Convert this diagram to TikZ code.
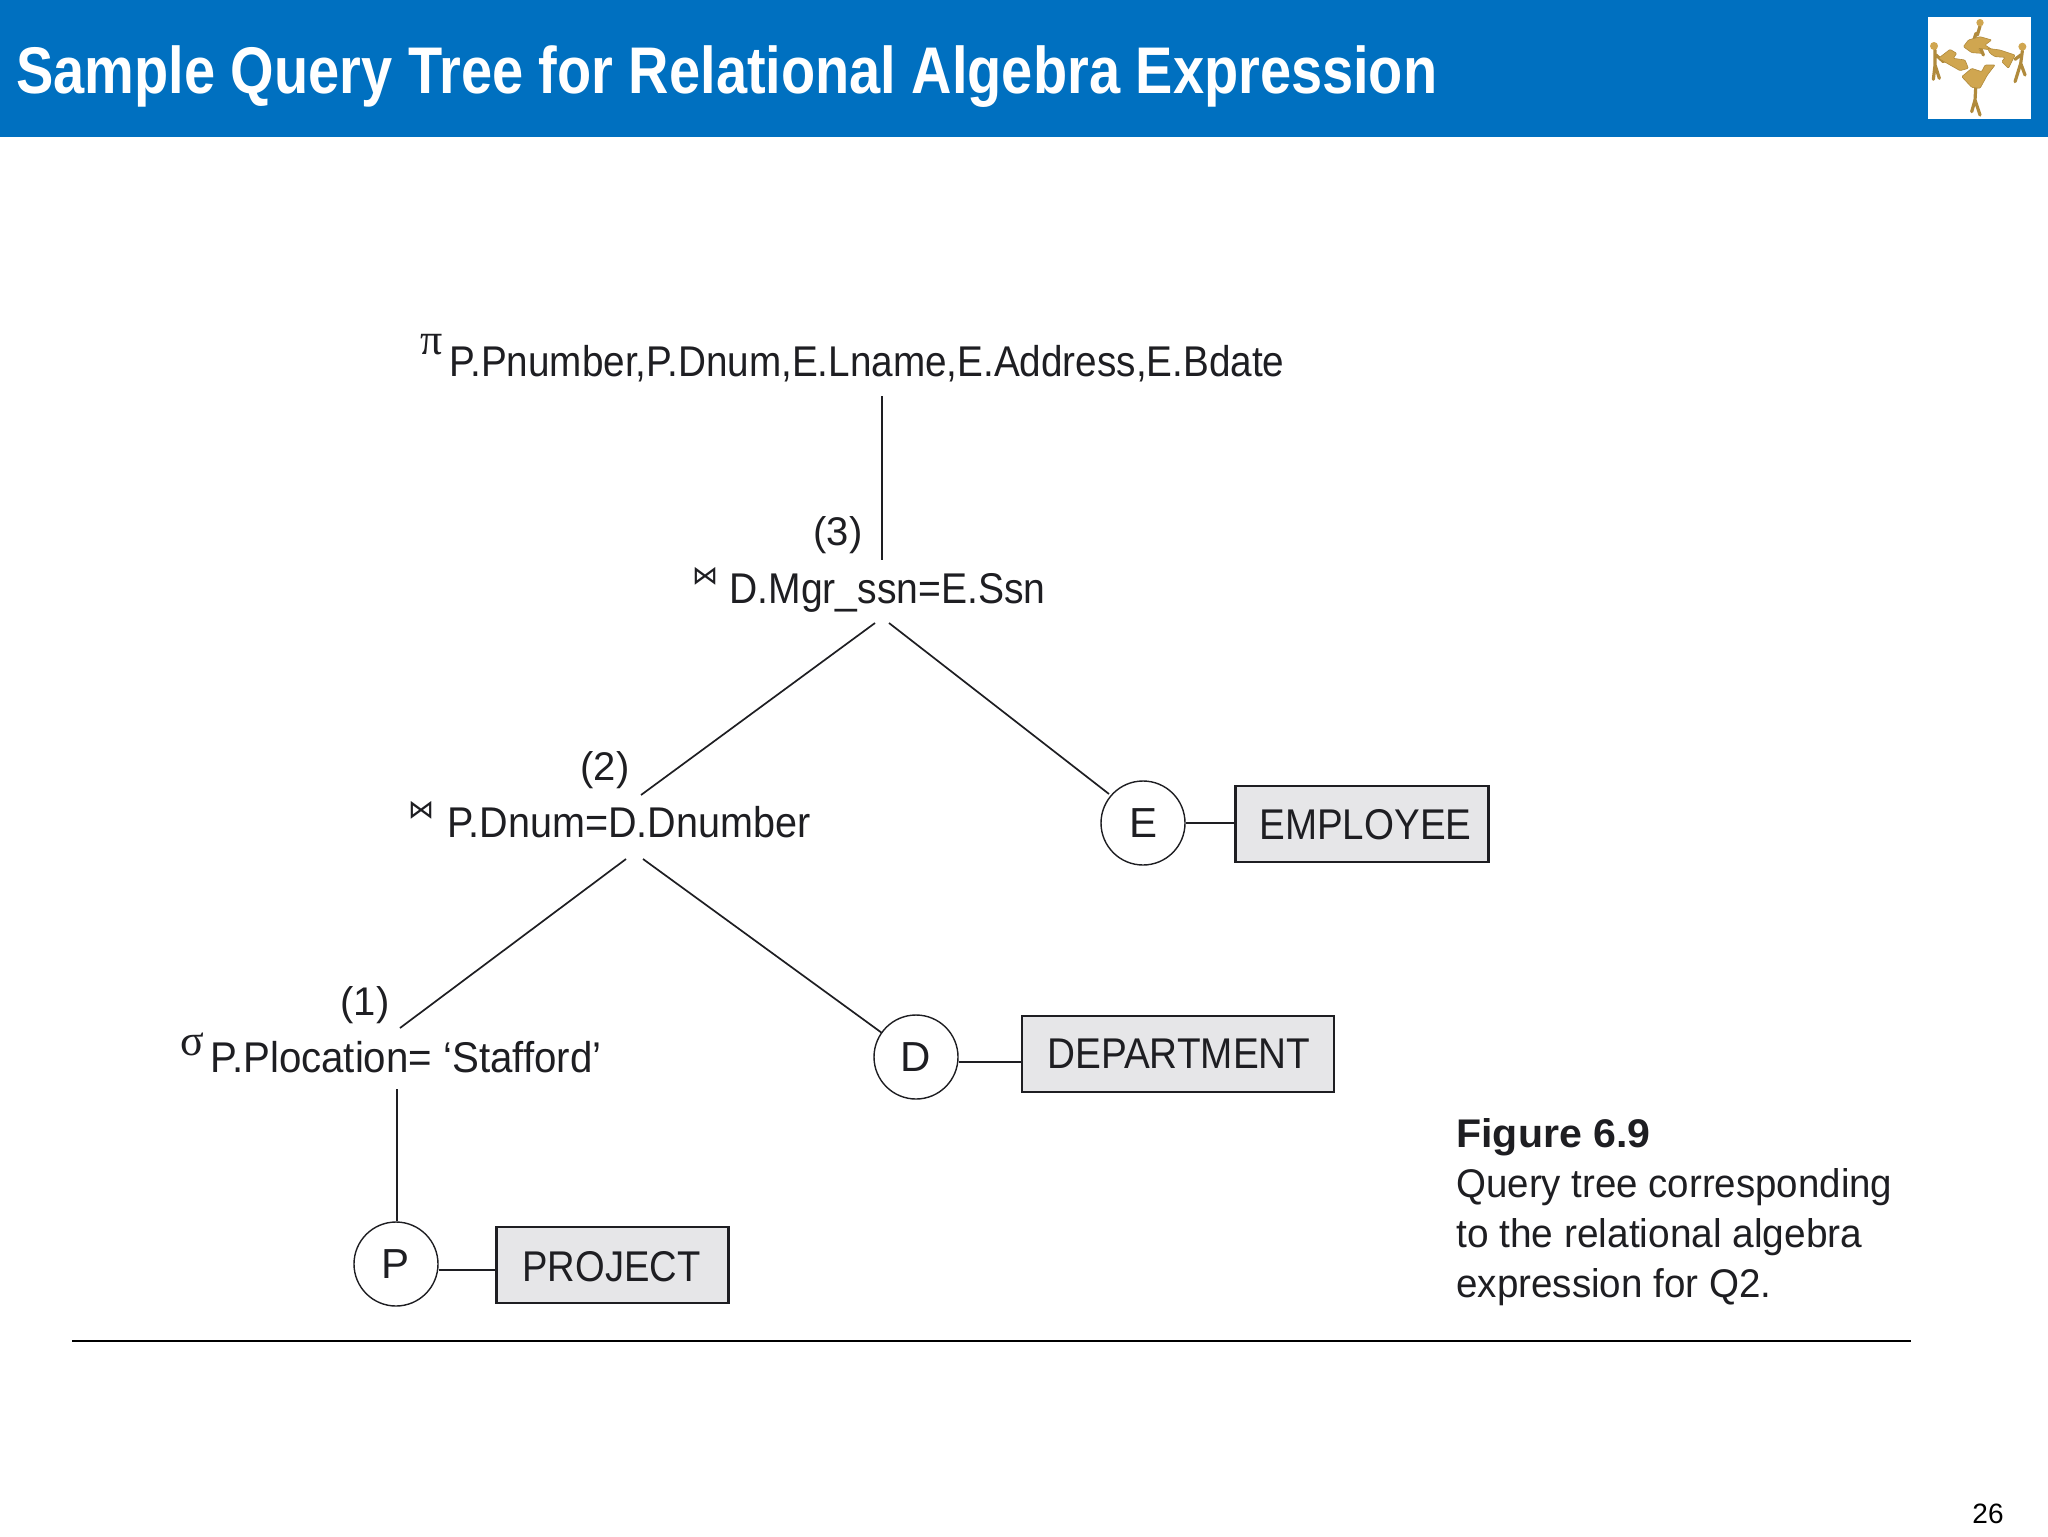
\documentclass[tikz,border=0pt]{standalone}
\usepackage{fontspec}
\setmainfont{Liberation Sans}
\newfontfamily\symfont{DejaVu Sans}
\newfontfamily\grkfont{Liberation Serif}
\definecolor{hdr}{HTML}{0070C0}
\definecolor{boxgray}{HTML}{E6E6E8}
\definecolor{gold}{HTML}{D0A650}
\definecolor{golddk}{HTML}{B08A3C}
\definecolor{inkc}{HTML}{1E1E22}
\newsavebox{\fitbox}
% #1 target width in reference pixels, #2 text
\newcommand{\fitw}[2]{\sbox{\fitbox}{#2}\pgfmathsetmacro{\fitx}{(#1*0.5)/\wd\fitbox}\scalebox{\fitx}[1]{\usebox{\fitbox}}}
\tikzset{
  txt/.style={inner sep=0pt,anchor=base west,text=inkc},
  expr/.style={txt,font=\fontsize{21.5}{24}\selectfont},
  num/.style={inner sep=0pt,anchor=center,text=inkc,font=\fontsize{20}{24}\selectfont},
  rel/.style={draw=inkc,fill=boxgray,line width=1.1pt,inner sep=0pt},
  relname/.style={txt,font=\fontsize{21.5}{24}\selectfont},
  tup/.style={circle,draw=inkc,fill=white,line width=.7pt,minimum size=42pt,inner sep=0pt,text=inkc,font=\fontsize{21}{24}\selectfont},
  link/.style={draw=inkc,line width=.85pt},
  captxt/.style={txt,font=\fontsize{20}{24}\selectfont},
  piece/.style={fill=gold,draw=golddk,line width=.3pt,rounded corners=.5pt},
  man/.style={draw=golddk,line width=1.6pt,line cap=round,line join=round}
}
\begin{document}
\begin{tikzpicture}[x=0.5pt,y=-0.5pt]
\useasboundingbox (0,0) rectangle (2048,1536);
\fill[white] (0,0) rectangle (2048,1536);
\fill[hdr] (0,0) rectangle (2048,137);
\node[inner sep=0pt,anchor=base west,text=white,font=\bfseries\fontsize{33}{36}\selectfont] (title) at (16,94) {\fitw{1421}{Sample Query Tree for Relational Algebra Expression}};
% logo
\fill[white] (1928,17) rectangle (2031,119);
\begin{scope}[shift={(1900,0)},x=0.1667pt,y=-0.1667pt]
 \draw[man] (240,78) -- (232,105) (228,100) -- (222,118) (240,140) -- (250,165);
 \draw[man] (105,150) -- (105,195) -- (118,235) (105,195) -- (100,238) (108,165) -- (130,185);
 \draw[man] (367,152) -- (362,190) -- (375,225) (362,190) -- (345,245) (362,165) -- (345,178);
 \draw[man] (228,245) -- (225,300) -- (215,335) (225,300) -- (240,345);
 \draw[piece] (190,140) -- (205,120) -- (240,110) -- (275,120) -- (255,135) -- (278,150) -- (235,145) -- (245,160) -- (215,158) -- cycle;
 \draw[piece] (115,175) -- (150,148) -- (170,160) -- (160,175) -- (195,180) -- (205,205) -- (180,212) -- (150,195) -- cycle;
 \draw[piece] (262,145) -- (300,150) -- (345,165) -- (325,205) -- (305,185) -- (315,172) -- (285,170) -- (270,160) -- cycle;
 \draw[piece] (185,230) -- (215,205) -- (245,215) -- (255,195) -- (285,195) -- (262,225) -- (240,265) -- (215,262) -- cycle;
 \fill[gold] (240,68) circle (11);
 \fill[gold] (102,138) circle (12);
 \fill[gold] (367,140) circle (12);
 \fill[gold] (228,232) circle (12);
\end{scope}
% expressions
\node[inner sep=0pt,text=inkc,font=\grkfont\fontsize{22}{24}\selectfont] (pisym) at (432,345) {π};
\node[expr] (root) at (449,376) {\fitw{835}{P.Pnumber,P.Dnum,E.Lname,E.Address,E.Bdate}};
\node[num] (n3) at (838,535) {(3)};
\node[inner sep=0pt,text=inkc,font=\symfont\fontsize{13}{14}\selectfont] (bow3) at (705,576) {⋈};
\node[expr] (join3) at (729,603) {\fitw{316}{D.Mgr\_ssn=E.Ssn}};
\node[num] (n2) at (605,770) {(2)};
\node[inner sep=0pt,text=inkc,font=\symfont\fontsize{13}{14}\selectfont] (bow2) at (421,810) {⋈};
\node[expr] (join2) at (447,837) {\fitw{363}{P.Dnum=D.Dnumber}};
\node[num] (n1) at (365,1005) {(1)};
\node[inner sep=0pt,text=inkc,font=\grkfont\fontsize{22}{24}\selectfont] (sigsym) at (192,1044) {σ};
\node[expr] (sel) at (210,1072) {\fitw{391}{P.Plocation= ‘Stafford’}};
% leaves
\node[tup] (E) at (1143,823) {E};
\node[tup] (D) at (916,1057) {D};
\node[tup] (P) at (396,1264) {P};
\node[rel,minimum width=126.5pt,minimum height=38pt] (emp) at (1362,824) {};
\node[rel,minimum width=156pt,minimum height=38pt] (dep) at (1178,1054) {};
\node[rel,minimum width=116pt,minimum height=38pt] (pro) at (612.5,1265) {};
\node[relname] (empt) at (1259,839) {\fitw{212}{EMPLOYEE}};
\node[relname] (dept) at (1047,1068) {\fitw{263}{DEPARTMENT}};
\node[relname] (prot) at (522,1281) {\fitw{178}{PROJECT}};
% connector end points
\coordinate (a1) at (882,396); \coordinate (a2) at (882,560);
\coordinate (b1) at (875,623); \coordinate (b2) at (641,795);
\coordinate (c1) at (889,623); \coordinate (c2) at (1109,794);
\coordinate (d1) at (626,859); \coordinate (d2) at (400,1028);
\coordinate (e1) at (643,859); \coordinate (e2) at (882,1033);
\coordinate (f1) at (397,1089);
\coordinate (dl) at ([yshift=-2.5pt]D.east);
\coordinate (pl) at ([yshift=-3pt]P.east);
\draw[link] (a1) -- (a2);
\draw[link] (b1) -- (b2);
\draw[link] (c1) -- (c2);
\draw[link] (d1) -- (d2);
\draw[link] (e1) -- (e2);
\draw[link] (f1) -- (f1 |- P.north);
\draw[link] (E.east) -- (E.east -| emp.west);
\draw[link] (dl) -- (dl -| dep.west);
\draw[link] (pl) -- (pl -| pro.west);
% caption
\node[captxt,font=\bfseries\fontsize{20}{24}\selectfont] (c0) at (1456,1147) {\fitw{194}{Figure 6.9}};
\node[captxt] (c1t) at (1456,1197) {\fitw{436}{Query tree corresponding}};
\node[captxt] (c2t) at (1456,1247) {\fitw{406}{to the relational algebra}};
\node[captxt] (c3t) at (1456,1297) {\fitw{315}{expression for Q2.}};
\coordinate (r1) at (72,1341); \coordinate (r2) at (1911,1341);
\draw[draw=black,line width=1pt] (r1) -- (r2);
\node[inner sep=0pt,anchor=base east,text=black,font=\fontsize{14}{16}\selectfont] (pg) at (2004,1523) {26};
\end{tikzpicture}
\end{document}
